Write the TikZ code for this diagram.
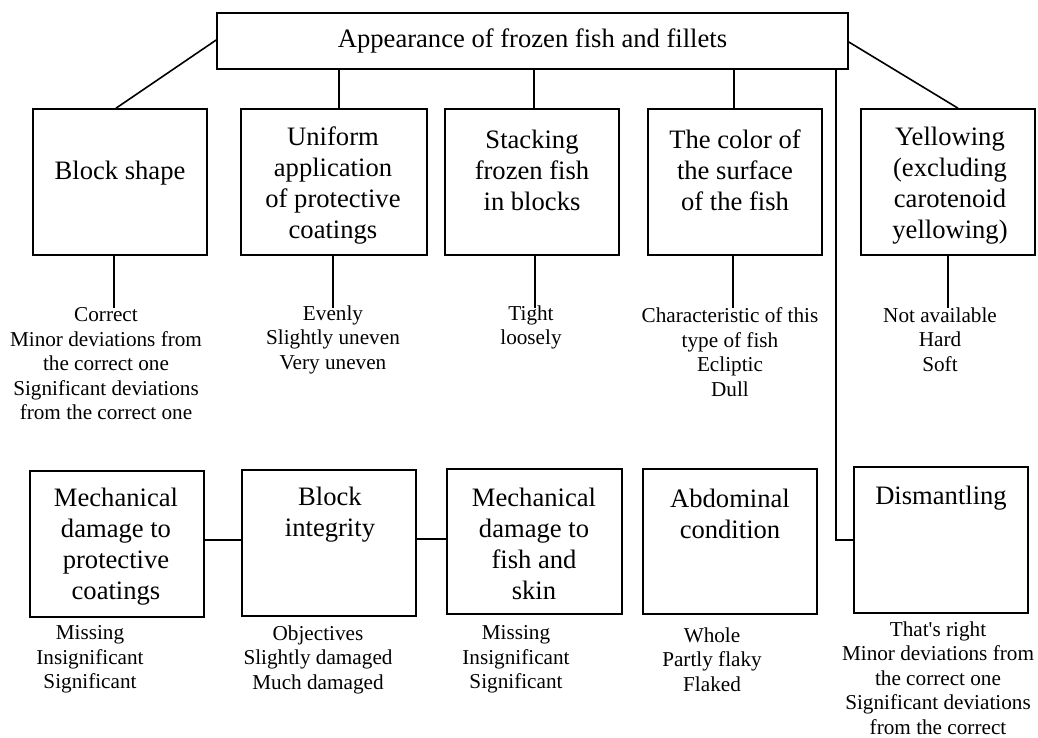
\documentclass[tikz,border=0pt]{standalone}
\usepackage{fontspec}
\setmainfont{Liberation Serif}
\begin{document}
\begin{tikzpicture}[x=1pt,y=-1pt,
  box/.style={draw,line width=1.6pt,inner sep=0pt},
  btxt/.style={align=center,inner sep=0pt,font=\fontsize{26.6}{31}\selectfont},
  ltxt/.style={align=center,inner sep=0pt,font=\fontsize{21.2}{24.5}\selectfont},
  conn/.style={line width=1.6pt}]
\useasboundingbox (0,0) rectangle (1038,737);
% top
\node[box,minimum width=631pt,minimum height=56pt,font=\fontsize{26.6}{31}\selectfont] (top) at (532.5,41) {Appearance of frozen fish and fillets};
% row 1 boxes
\node[box,minimum width=174pt,minimum height=146pt] (bs) at (120,182) {};
\node[box,minimum width=186pt,minimum height=146pt] (ua) at (334,182) {};
\node[box,minimum width=174pt,minimum height=146pt] (sf) at (532,182) {};
\node[box,minimum width=174pt,minimum height=146pt] (cs) at (735,182) {};
\node[box,minimum width=174pt,minimum height=146pt] (yw) at (948,182) {};
% row 1 box texts
\node[btxt] (bsT) at (120,173) {Block shape};
\node[btxt] (uaT) at (333,185.5) {Uniform\\application\\of protective\\coatings};
\node[btxt] (sfT) at (532,170) {Stacking\\frozen fish\\in blocks};
\node[btxt] (csT) at (735,170) {The color of\\the surface\\of the fish};
\node[btxt] (ywT) at (950,185.5) {Yellowing\\(excluding\\carotenoid\\yellowing)};
% row 1 lists
\node[ltxt] (bsL) at (106,364) {Correct\\Minor deviations from\\the correct one\\Significant deviations\\from the correct one};
\node[ltxt] (uaL) at (333,339.5) {Evenly\\Slightly uneven\\Very uneven};
\node[ltxt] (sfL) at (531,327.5) {Tight\\loosely};
\node[ltxt] (csL) at (730,352) {Characteristic of this\\type of fish\\Ecliptic\\Dull};
\node[ltxt] (ywL) at (940,339.5) {Not available\\Hard\\Soft};
% row 2 boxes
\node[box,minimum width=174pt,minimum height=146pt] (mp) at (117,544) {};
\node[box,minimum width=174pt,minimum height=146pt] (bi) at (329,543) {};
\node[box,minimum width=175pt,minimum height=145pt] (mf) at (534.5,541.5) {};
\node[box,minimum width=174pt,minimum height=145pt] (ac) at (730,541.5) {};
\node[box,minimum width=174pt,minimum height=146pt] (dm) at (941,540) {};
% row 2 texts
\node[btxt] (mpT) at (116,546.5) {Mechanical\\damage to\\protective\\coatings};
\node[btxt] (biT) at (330,515) {Block\\integrity};
\node[btxt] (mfT) at (534,544) {Mechanical\\damage to\\fish and\\skin};
\node[btxt] (acT) at (730,514) {Abdominal\\condition};
\node[btxt] (dmT) at (941,498) {Dismantling};
% row 2 lists
\node[ltxt] (mpL) at (90,659.5) {Missing\\Insignificant\\Significant};
\node[ltxt] (biL) at (318,659.5) {Objectives\\Slightly damaged\\Much damaged};
\node[ltxt] (mfL) at (516,659.5) {Missing\\Insignificant\\Significant};
\node[ltxt] (acL) at (712,659.5) {Whole\\Partly flaky\\Flaked};
\node[ltxt] (dmL) at (938,678) {That\textquotesingle s right\\Minor deviations from\\the correct one\\Significant deviations\\from the correct};
% connectors top -> row 1
\draw[conn] ([yshift=1pt]top.west) -- ([xshift=-4pt]bs.north);
\draw[conn] ([xshift=5pt]ua.north) -- ([xshift=5pt]ua.north |- top.south);
\draw[conn] ([xshift=2pt]sf.north) -- ([xshift=2pt]sf.north |- top.south);
\draw[conn] ([xshift=-1pt]cs.north) -- ([xshift=-1pt]cs.north |- top.south);
\draw[conn] ([yshift=-1pt]top.east) -- ([xshift=10pt]yw.north);
\draw[conn] ([xshift=303.5pt]top.south) |- (dm.west);
% row 1 -> lists
\draw[conn] ([xshift=-6pt]bs.south) -- ([xshift=-6pt]bs.south |- bsL.north);
\draw[conn] ([xshift=-1pt]ua.south) -- ([xshift=-1pt]ua.south |- bsL.north);
\draw[conn] ([xshift=3pt]sf.south) -- ([xshift=3pt]sf.south |- bsL.north);
\draw[conn] ([xshift=-2pt]cs.south) -- ([xshift=-2pt]cs.south |- bsL.north);
\draw[conn] ([xshift=0pt]yw.south) -- ([xshift=0pt]yw.south |- bsL.north);
% row 2 links
\draw[conn] ([yshift=4pt]mp.east) -- ([yshift=4pt]mp.east -| bi.west);
\draw[conn] ([yshift=4pt]bi.east) -- ([yshift=4pt]bi.east -| mf.west);
\end{tikzpicture}
\end{document}
